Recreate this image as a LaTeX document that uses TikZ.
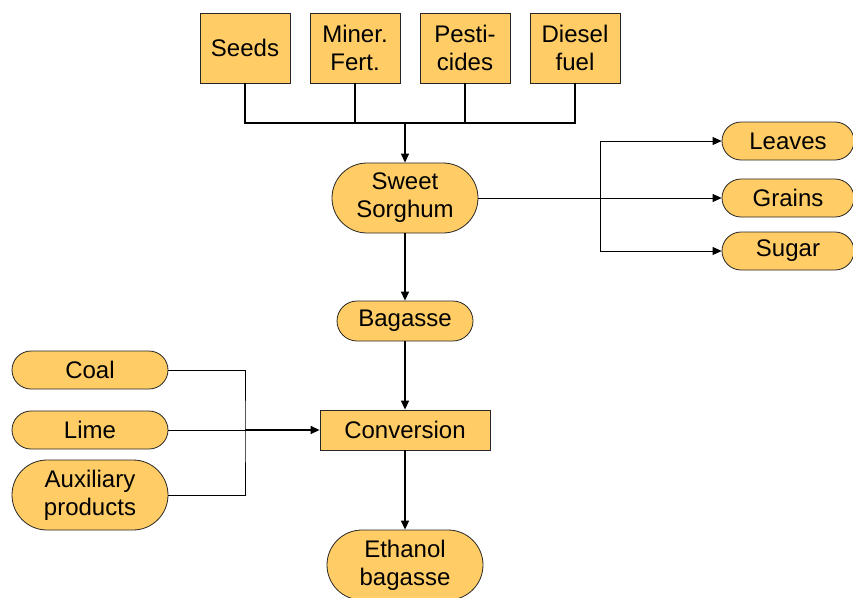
\documentclass[tikz,border=0pt]{standalone}
\usepackage{fontspec}
\setmainfont{Liberation Sans}
\usetikzlibrary{shapes.misc,arrows.meta}
\definecolor{boxfill}{HTML}{FFCC66}
\begin{document}
\begin{tikzpicture}[x=1pt,y=-1pt,
  box/.style={draw=black!85,fill=boxfill,line width=0.8pt,minimum width=90pt,
    minimum height=70pt,align=center,inner sep=2pt,font=\fontsize{24}{28}\selectfont},
  pill/.style={box,rounded rectangle},
  link/.style={line width=1.3pt},
  thinlink/.style={line width=0.8pt},
  tip/.style={-{Triangle[length=9pt,width=8pt]}}]
\useasboundingbox (0,0) rectangle (853,597);
% inputs on top
\foreach \x/\name/\txt in {245/seeds/Seeds,355/miner/{Miner.\\Fert.},465/pest/{Pesti-\\cides},575/diesel/{Diesel\\fuel}}
  \node[box] (\name) at (\x,48) {\txt};
\node[pill,minimum width=150pt] (sorghum) at (405,198) {Sweet\\Sorghum};
\coordinate (join) at (405,123);
\draw[link] (seeds.south) |- (join) -| (diesel.south);
\draw[link] (miner.south) -- (miner.south |- join);
\draw[link] (pest.south) -- (pest.south |- join);
\draw[link,tip] (join) -- (sorghum.north);
% products on the right
\foreach \y/\name/\txt in {141/leaves/Leaves,198/grains/Grains,251/sugar/Sugar}
  \node[pill,minimum width=136pt,minimum height=38pt] (\name) at (788,\y) {\txt};
\coordinate (fork) at (600,198);
\draw[thinlink,tip] (sorghum.east) -- (grains.west);
\draw[thinlink,tip] (fork |- leaves) -- (leaves.west);
\draw[thinlink,tip] (fork |- leaves) -- (fork |- sugar) -- (sugar.west);
% main line
\node[pill,minimum width=140pt,minimum height=40pt] (bagasse) at (405,321) {Bagasse};
\node[box,minimum width=170pt,minimum height=40pt] (conversion) at (405,430) {Conversion};
\node[pill,minimum width=160pt] (ethanol) at (405,565) {Ethanol\\bagasse};
\draw[link,tip] (sorghum.south) -- (bagasse.north);
\draw[link,tip] (bagasse.south) -- (conversion.north);
\draw[link,tip] (conversion.south) -- (ethanol.north);
% auxiliary inputs
\node[pill,minimum width=160pt,minimum height=38pt] (coal) at (90,370) {Coal};
\node[pill,minimum width=160pt,minimum height=38pt] (lime) at (90,430) {Lime};
\node[pill,minimum width=160pt] (aux) at (90,495) {Auxiliary\\products};
\coordinate (merge) at (245,430);
\draw[thinlink] (coal.east) -| (merge) |- (aux.east);
\draw[thinlink] (lime.east) -- (merge);
\draw[link,tip] (merge) -- (conversion.west);
\end{tikzpicture}
\end{document}
